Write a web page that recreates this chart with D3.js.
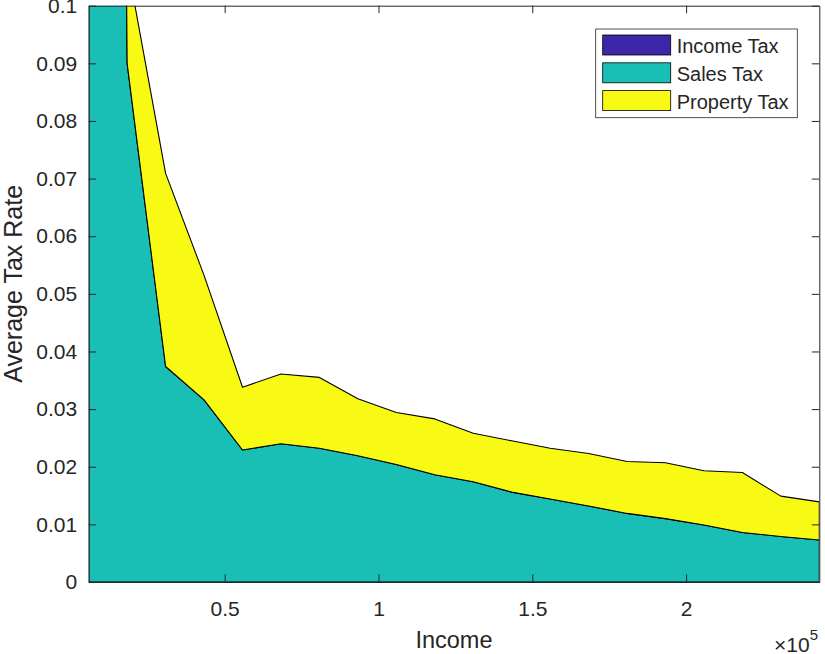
<!DOCTYPE html>
<html>
<head>
<meta charset="utf-8">
<script src="https://cdn.jsdelivr.net/npm/d3@7"></script>
<style>
  body { margin: 0; background: #fff; }
  text { font-family: "Liberation Sans", Arial, Helvetica, sans-serif; fill: #262626; }
</style>
</head>
<body>
<div id="chart"></div>
<script>
// income levels (x) and average tax rates by component
var income = [5800, 18300, 30800, 43300, 55800, 68300, 80800, 93300, 105800, 118300,
              130800, 143300, 155800, 168300, 180800, 193300, 205800, 218300, 230800, 243300];
var incomeTax = [0, 0, 0, 0, 0, 0, 0, 0, 0, 0, 0, 0, 0, 0, 0, 0, 0, 0, 0, 0];
var salesTax = [0.9, 0.0900, 0.0374, 0.0316, 0.0229, 0.0240, 0.0232, 0.0219, 0.0204, 0.0186,
                0.0174, 0.0156, 0.0144, 0.0132, 0.0119, 0.0110, 0.0099, 0.0086, 0.0079, 0.0073];
var propertyTax = [0.05, 0.0174, 0.0335, 0.0216, 0.0109, 0.0121, 0.0123, 0.0099, 0.0090, 0.0097,
                   0.0084, 0.0089, 0.0088, 0.0091, 0.0090, 0.0097, 0.0094, 0.0104, 0.0070, 0.0066];

var seriesNames = ["Income Tax", "Sales Tax", "Property Tax"];
var seriesColors = ["#3e26a8", "#19bfb5", "#f9fa14"];

var xTicks = [50000, 100000, 150000, 200000];
var xTickLabels = ["0.5", "1", "1.5", "2"];
var yTicks = [0, 0.01, 0.02, 0.03, 0.04, 0.05, 0.06, 0.07, 0.08, 0.09, 0.1];

var svgWidth = 825;
var svgHeight = 654;

var plot = { left: 88.7, right: 819.3, top: 5.7, bottom: 582 };

var svg = d3.select("#chart")
  .append("svg")
  .attr("width", svgWidth)
  .attr("height", svgHeight);

var x = d3.scaleLinear()
  .domain([income[0], income[income.length - 1]])
  .range([plot.left, plot.right]);
var y = d3.scaleLinear()
  .domain([0, 0.1])
  .range([plot.bottom, plot.top]);

var rows = income.map(function(v, i) {
  return { income: v, "Income Tax": incomeTax[i], "Sales Tax": salesTax[i], "Property Tax": propertyTax[i] };
});
var stacked = d3.stack().keys(seriesNames)(rows);

svg.append("clipPath")
  .attr("id", "plotclip")
  .append("rect")
  .attr("x", plot.left)
  .attr("y", plot.top)
  .attr("width", plot.right - plot.left)
  .attr("height", plot.bottom - plot.top);

var area = d3.area()
  .x(function(d) { return x(d.data.income); })
  .y0(function(d) { return y(d[0]); })
  .y1(function(d) { return y(d[1]); });

svg.append("g")
  .attr("clip-path", "url(#plotclip)")
  .selectAll("path")
  .data(stacked)
  .enter()
  .append("path")
  .attr("d", area)
  .attr("fill", function(d, i) { return seriesColors[i]; })
  .attr("stroke", "#000")
  .attr("stroke-width", 1.1)
  .attr("stroke-linejoin", "round");

// axes, ticks pointing inward, box on
function styleAxis(g) {
  g.selectAll("path").attr("stroke", "#262626");
  g.selectAll("line").attr("stroke", "#262626");
  g.selectAll("text")
    .style("font-family", "'Liberation Sans', Arial, Helvetica, sans-serif")
    .style("font-size", "21px")
    .attr("fill", "#262626");
}

svg.append("g")
  .attr("transform", "translate(0," + plot.bottom + ")")
  .call(d3.axisBottom(x).tickValues(xTicks)
    .tickFormat(function(d, i) { return xTickLabels[i]; })
    .tickSizeInner(-7.5).tickSizeOuter(0).tickPadding(18.7))
  .call(styleAxis);

svg.append("g")
  .attr("transform", "translate(0," + plot.top + ")")
  .call(d3.axisTop(x).tickValues(xTicks).tickFormat("")
    .tickSizeInner(-7.5).tickSizeOuter(0))
  .call(styleAxis);

svg.append("g")
  .attr("transform", "translate(" + plot.left + ",0)")
  .call(d3.axisLeft(y).tickValues(yTicks).tickFormat(d3.format("~g"))
    .tickSizeInner(-7.5).tickSizeOuter(0).tickPadding(11.5))
  .call(styleAxis);

svg.append("g")
  .attr("transform", "translate(" + plot.right + ",0)")
  .call(d3.axisRight(y).tickValues(yTicks).tickFormat("")
    .tickSizeInner(-7.5).tickSizeOuter(0))
  .call(styleAxis);

// axis labels
svg.append("text")
  .attr("x", (plot.left + plot.right) / 2)
  .attr("y", 648)
  .attr("text-anchor", "middle")
  .style("font-size", "23.5px")
  .text("Income");

svg.append("text")
  .attr("transform", "translate(22," + ((plot.top + plot.bottom) / 2 - 10) + ") rotate(-90)")
  .attr("text-anchor", "middle")
  .style("font-size", "25px")
  .text("Average Tax Rate");

var expo = svg.append("text")
  .attr("x", 818)
  .attr("y", 651.7)
  .attr("text-anchor", "end")
  .style("font-size", "21px");
expo.append("tspan").text("\u00d710");
expo.append("tspan").attr("dy", -12).style("font-size", "15px").text("5");

// legend
var legend = svg.append("g");
legend.append("rect")
  .attr("x", 595.7)
  .attr("y", 29)
  .attr("width", 201.6)
  .attr("height", 88.7)
  .attr("fill", "#fff")
  .attr("stroke", "#262626")
  .attr("stroke-width", 0.8);

var items = legend.selectAll("g.item")
  .data(seriesNames)
  .enter()
  .append("g")
  .attr("class", "item")
  .attr("transform", function(d, i) { return "translate(0," + (i * 27.8) + ")"; });

items.append("rect")
  .attr("x", 602.7)
  .attr("y", 35)
  .attr("width", 68)
  .attr("height", 20)
  .attr("fill", function(d, i) { return seriesColors[i]; })
  .attr("stroke", "#000")
  .attr("stroke-width", 0.8);

items.append("text")
  .attr("x", 676.7)
  .attr("y", 53)
  .style("font-size", "20px")
  .attr("fill", "#000")
  .text(function(d) { return d; });
</script>
</body>
</html>
